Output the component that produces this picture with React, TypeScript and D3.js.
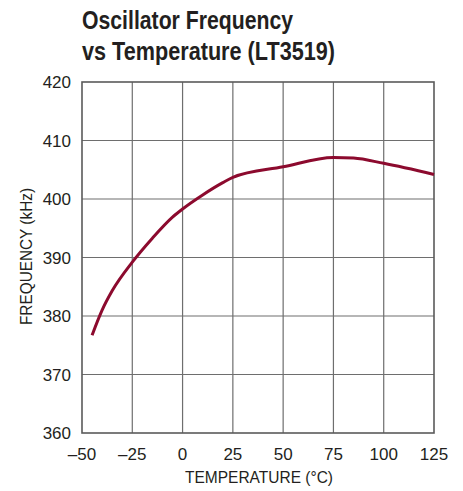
import React, { useEffect, useRef } from "react";
import * as d3 from "d3";

// Readings taken off the curve
const temperatures = [-45, -40, -35, -25, -15, -5, 0, 10, 20, 25, 50, 75, 85, 100, 125];
const frequencies = [376.7, 381.0, 384.3, 389.2, 393.3, 396.9, 398.3, 400.7, 402.8, 403.7, 405.5, 407.1, 407.0, 406.1, 404.2];

const xTicks = [-50, -25, 0, 25, 50, 75, 100, 125];
const yTicks = [360, 370, 380, 390, 400, 410, 420];

const titleLines = ["Oscillator Frequency", "vs Temperature (LT3519)"];
const xTitle = "TEMPERATURE (°C)";
const yTitle = "FREQUENCY (kHz)";

const FONT = "'Liberation Sans Narrow', 'Arial Narrow', 'Liberation Sans', sans-serif";

const App = () => {
  const chartRef = useRef<SVGSVGElement>(null);

  useEffect(() => {
    const width = 463;
    const height = 491;
    const marginLeft = 82;
    const marginRight = 29;
    const marginTop = 82;
    const marginBottom = 58;

    const x = d3.scaleLinear().domain([-50, 125]).range([marginLeft, width - marginRight]);
    const y = d3.scaleLinear().domain([360, 420]).range([height - marginBottom, marginTop]);

    const svg = d3.select(chartRef.current);
    svg.selectAll("*").remove();

    // Title
    const title = svg.append("g").attr("font-family", FONT).attr("font-weight", "bold").attr("font-size", 25).attr("fill", "#231f20");
    title.append("text").attr("x", 82).attr("y", 29).attr("textLength", 211).attr("lengthAdjust", "spacingAndGlyphs").text(titleLines[0]);
    title.append("text").attr("x", 82).attr("y", 60).attr("textLength", 253).attr("lengthAdjust", "spacingAndGlyphs").text(titleLines[1]);

    // Grid
    const grid = svg.append("g").attr("stroke", "#6e6e6e").attr("stroke-width", 1.2);
    grid.selectAll("line.v")
      .data(xTicks.slice(1, -1))
      .join("line")
      .attr("class", "v")
      .attr("x1", (d) => x(d)).attr("x2", (d) => x(d))
      .attr("y1", y(420)).attr("y2", y(360));
    grid.selectAll("line.h")
      .data(yTicks.slice(1, -1))
      .join("line")
      .attr("class", "h")
      .attr("x1", x(-50)).attr("x2", x(125))
      .attr("y1", (d) => y(d)).attr("y2", (d) => y(d));

    // Frame
    svg.append("rect")
      .attr("x", x(-50)).attr("y", y(420))
      .attr("width", x(125) - x(-50)).attr("height", y(360) - y(420))
      .attr("fill", "none").attr("stroke", "#5a5a5a").attr("stroke-width", 1.6);

    // Curve
    const line = d3.line<number>()
      .x((_, i) => x(temperatures[i]))
      .y((d) => y(d))
      .curve(d3.curveMonotoneX);
    svg.append("path")
      .datum(frequencies)
      .attr("d", line)
      .attr("fill", "none")
      .attr("stroke", "#8c0a2e")
      .attr("stroke-width", 3);

    // Tick labels
    const labels = svg.append("g").attr("font-family", FONT).attr("font-size", 17).attr("fill", "#231f20");
    labels.selectAll("text.x")
      .data(xTicks)
      .join("text")
      .attr("class", "x")
      .attr("x", (d) => x(d))
      .attr("y", 460)
      .attr("text-anchor", "middle")
      .text((d) => (d < 0 ? "\u2013" + Math.abs(d) : String(d)));
    labels.selectAll("text.y")
      .data(yTicks)
      .join("text")
      .attr("class", "y")
      .attr("x", 71)
      .attr("y", (d) => y(d) + 6)
      .attr("text-anchor", "end")
      .text((d) => String(d));

    // Axis titles
    labels.append("text")
      .attr("x", 185)
      .attr("y", 483)
      .attr("textLength", 148)
      .attr("lengthAdjust", "spacingAndGlyphs")
      .text(xTitle);
    labels.append("text")
      .attr("transform", `translate(32,325) rotate(-90)`)
      .attr("textLength", 137)
      .attr("lengthAdjust", "spacingAndGlyphs")
      .text(yTitle);
  }, []);

  return <svg ref={chartRef} width={463} height={491} style={{ position: "absolute", left: 0, top: 0 }} />;
};

export default App;
